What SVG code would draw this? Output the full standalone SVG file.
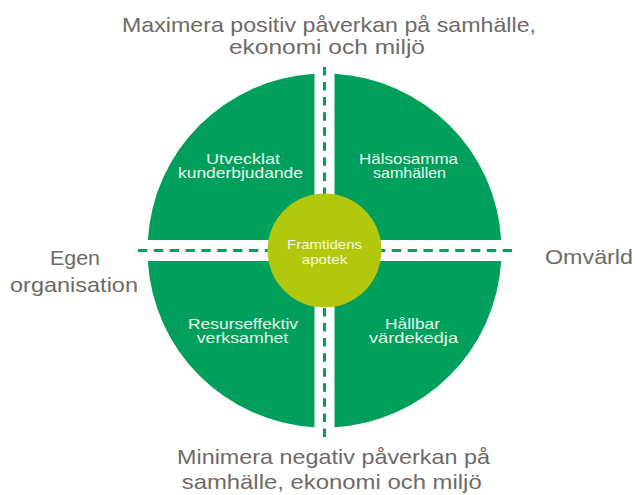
<svg xmlns="http://www.w3.org/2000/svg" width="635" height="495" viewBox="0 0 635 495">
  <style>
    .quad { fill: #00a05c; }
    .core { fill: #b1c80e; }
    .dash { stroke: #00a05c; stroke-width: 3; fill: none; }
    .lbl { font-family: "Liberation Sans", Arial, sans-serif; font-size: 21px; fill: #6e6a66; text-anchor: middle; }
    .qt { font-family: "Liberation Sans", Arial, sans-serif; font-size: 14.5px; fill: #e8f5ec; text-anchor: middle; }
    .ct { font-family: "Liberation Sans", Arial, sans-serif; font-size: 13.5px; fill: #f4f8de; text-anchor: middle; }
  </style>
  <rect width="635" height="495" fill="#ffffff"/>

  <g id="label-top">
    <text class="lbl" x="329" y="32" textLength="414" lengthAdjust="spacingAndGlyphs">Maximera positiv påverkan på samhälle,</text>
    <text class="lbl" x="327" y="54" textLength="196" lengthAdjust="spacingAndGlyphs">ekonomi och miljö</text>
  </g>
  <g id="label-bottom">
    <text class="lbl" x="333.5" y="464" textLength="313" lengthAdjust="spacingAndGlyphs">Minimera negativ påverkan på</text>
    <text class="lbl" x="331.7" y="489" textLength="300" lengthAdjust="spacingAndGlyphs">samhälle, ekonomi och miljö</text>
  </g>
  <g id="label-left">
    <text class="lbl" x="75" y="265" textLength="50" lengthAdjust="spacingAndGlyphs">Egen</text>
    <text class="lbl" x="74" y="292" textLength="128" lengthAdjust="spacingAndGlyphs">organisation</text>
  </g>
  <g id="label-right">
    <text class="lbl" x="589" y="264" textLength="88" lengthAdjust="spacingAndGlyphs">Omvärld</text>
  </g>

  <g id="quad-top-left">
    <path class="quad" d="M314.5,240 L314.5,73.78 A177,177 0 0,0 147.81,240 Z"/>
    <text class="qt" x="243" y="163.5" textLength="74" lengthAdjust="spacingAndGlyphs">Utvecklat</text>
    <text class="qt" x="240.5" y="178" textLength="125" lengthAdjust="spacingAndGlyphs">kunderbjudande</text>
  </g>
  <g id="quad-top-right">
    <path class="quad" d="M334.5,240 L334.5,73.78 A177,177 0 0,1 501.19,240 Z"/>
    <text class="qt" x="408.5" y="163.5" textLength="99" lengthAdjust="spacingAndGlyphs">Hälsosamma</text>
    <text class="qt" x="409.5" y="178" textLength="73" lengthAdjust="spacingAndGlyphs">samhällen</text>
  </g>
  <g id="quad-bottom-left">
    <path class="quad" d="M314.5,261 L314.5,427.22 A177,177 0 0,1 147.81,261 Z"/>
    <text class="qt" x="243" y="328.5" textLength="110" lengthAdjust="spacingAndGlyphs">Resurseffektiv</text>
    <text class="qt" x="242.5" y="343" textLength="91.6" lengthAdjust="spacingAndGlyphs">verksamhet</text>
  </g>
  <g id="quad-bottom-right">
    <path class="quad" d="M334.5,261 L334.5,427.22 A177,177 0 0,0 501.19,261 Z"/>
    <text class="qt" x="412.5" y="328.5" textLength="55" lengthAdjust="spacingAndGlyphs">Hållbar</text>
    <text class="qt" x="413.5" y="343" textLength="89" lengthAdjust="spacingAndGlyphs">värdekedja</text>
  </g>

  <g id="connectors">
    <line class="dash" x1="324.5" y1="67" x2="324.5" y2="437" stroke-dasharray="8.5 6.56"/>
    <line class="dash" x1="138" y1="250.5" x2="512" y2="250.5" stroke-dasharray="9.3 6.56"/>
  </g>

  <g id="core">
    <circle class="core" cx="324.5" cy="250.5" r="57"/>
    <text class="ct" x="324.5" y="248.5" textLength="75" lengthAdjust="spacingAndGlyphs">Framtidens</text>
    <text class="ct" x="324.5" y="263.5" textLength="45.6" lengthAdjust="spacingAndGlyphs">apotek</text>
  </g>
</svg>
